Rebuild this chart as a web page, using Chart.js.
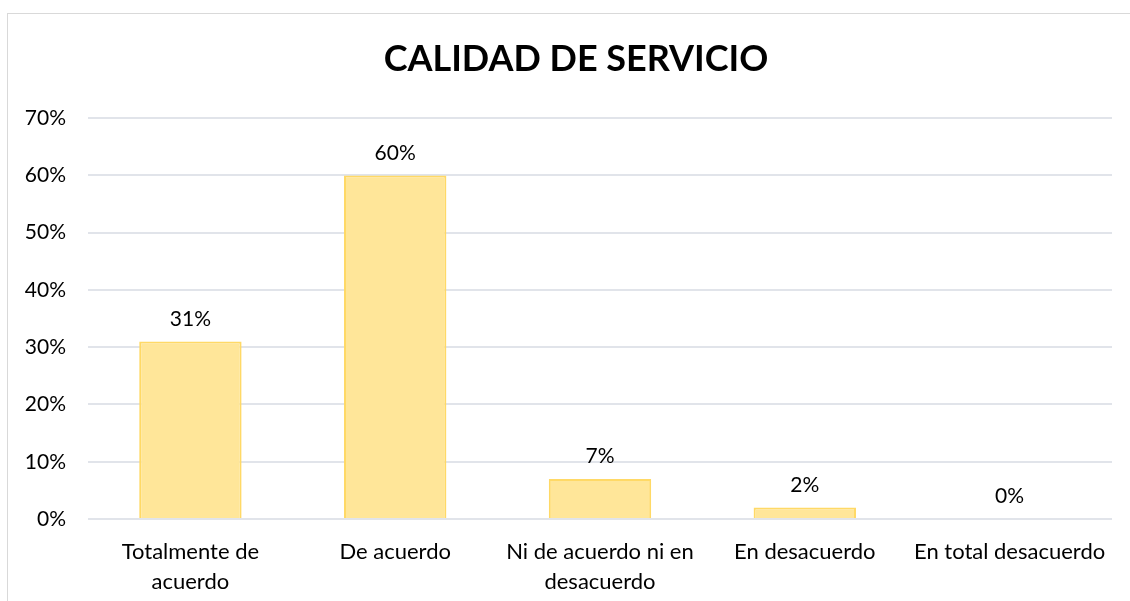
<!DOCTYPE html>
<html>
<head>
<meta charset="utf-8">
<script src="https://cdn.jsdelivr.net/npm/chart.js@4/dist/chart.umd.min.js"></script>
<style>
  html, body { margin: 0; padding: 0; background: #fff; }
  #frame { position: absolute; left: 7px; top: 13px; width: 1140px; height: 620px; border: 1px solid #d9d9d9; }
  #wrap { position: absolute; left: 0; top: 0; width: 1130px; height: 601px; }
</style>
</head>
<body>
<div id="frame"></div>
<div id="wrap"><canvas id="chart"></canvas></div>
<script>
// categorias y valores (%)
var categorias = [
    ['Totalmente de', 'acuerdo'],
    'De acuerdo',
    ['Ni de acuerdo ni en', 'desacuerdo'],
    'En desacuerdo',
    'En total desacuerdo'
];
var valores = [31, 60, 7, 2, 0];
var ticksY = [0, 10, 20, 30, 40, 50, 60, 70];

var fuente = 'Lato, "Open Sans", sans-serif';

// etiquetas encima de cada barra
var etiquetasPlugin = {
    id: 'etiquetas',
    afterLayout: function(chart) {
        // el titulo original esta centrado respecto al marco, no al canvas
        if (chart.titleBlock) chart.titleBlock.left += 22;
    },
    afterDatasetsDraw: function(chart) {
        var ctx = chart.ctx;
        var meta = chart.getDatasetMeta(0);
        ctx.save();
        ctx.font = '21px ' + fuente;
        ctx.fillStyle = '#000';
        ctx.textAlign = 'center';
        ctx.textBaseline = 'bottom';
        meta.data.forEach(function(bar, i) {
            ctx.fillText(valores[i] + '%', bar.x, bar.y - 12);
        });
        ctx.restore();
    }
};

var ctx = document.getElementById('chart').getContext('2d');
var chart = new Chart(ctx, {
    type: 'bar',
    data: {
        labels: categorias,
        datasets: [{
            data: valores,
            backgroundColor: '#FFE699',
            borderColor: '#FFD966',
            borderWidth: 2,
            categoryPercentage: 1,
            barPercentage: 0.5
        }]
    },
    options: {
        responsive: true,
        maintainAspectRatio: false,
        animation: false,
        layout: { padding: { left: 18, right: 18, top: 0, bottom: 0 } },
        plugins: {
            legend: { display: false },
            tooltip: { enabled: false },
            title: {
                display: true,
                text: 'CALIDAD DE SERVICIO',
                color: '#000',
                font: { family: fuente, size: 36, weight: 'bold', lineHeight: 1.2 },
                padding: { top: 38, bottom: 37 }
            }
        },
        scales: {
            x: {
                grid: { display: false },
                border: { display: false },
                ticks: {
                    color: '#000',
                    font: { family: fuente, size: 22, lineHeight: 1.36 },
                    padding: 10,
                    maxRotation: 0,
                    autoSkip: false
                },
                afterFit: function(scale) { scale.height = 82; }
            },
            y: {
                min: 0,
                max: 70,
                afterBuildTicks: function(scale) {
                    scale.ticks = ticksY.map(function(v) { return { value: v }; });
                },
                grid: { color: '#E1E4EA', lineWidth: 2, drawTicks: false },
                border: { display: false },
                ticks: {
                    color: '#000',
                    font: { family: fuente, size: 21 },
                    padding: 22,
                    callback: function(v) { return v + '%'; }
                },
                afterFit: function(scale) { scale.width = 70; }
            }
        }
    },
    plugins: [etiquetasPlugin]
});
</script>
</body>
</html>
